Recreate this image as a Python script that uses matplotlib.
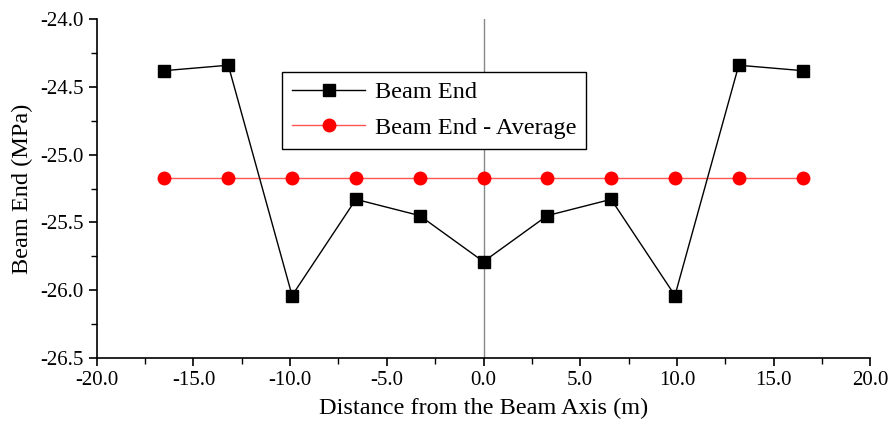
import matplotlib
matplotlib.use("Agg")
import matplotlib.pyplot as plt
from matplotlib.ticker import MultipleLocator, FormatStrFormatter

distance = [-16.5, -13.2, -9.9, -6.6, -3.3, 0.0, 3.3, 6.6, 9.9, 13.2, 16.5]
beam_end = [-24.38, -24.34, -26.04, -25.33, -25.45, -25.79, -25.45, -25.33, -26.04, -24.34, -24.38]
beam_avg = [-25.17] * len(distance)

plt.rcParams['font.family'] = ['Liberation Serif', 'DejaVu Serif']

fig = plt.figure(figsize=(8.88, 4.26), dpi=100)
ax = fig.add_axes([0.109, 0.16, 0.871, 0.795])

ax.axvline(0, color='#888888', lw=1.0, zorder=1)
ax.plot(distance, beam_end, color='black', lw=1.0, marker='s', markersize=8,
        label='Beam End', zorder=3)
ax.plot(distance, beam_avg, color='#ff5555', lw=1.0, marker='o', markersize=9,
        markerfacecolor='red', markeredgecolor='red', label='Beam End - Average', zorder=2)

ax.set_xlim(-20, 20)
ax.set_ylim(-26.5, -24.0)
ax.xaxis.set_major_locator(MultipleLocator(5))
ax.xaxis.set_minor_locator(MultipleLocator(2.5))
ax.yaxis.set_major_locator(MultipleLocator(0.5))
ax.yaxis.set_minor_locator(MultipleLocator(0.25))
ax.xaxis.set_major_formatter(FormatStrFormatter('%.1f'))
ax.yaxis.set_major_formatter(FormatStrFormatter('%.1f'))

for s in ['top', 'right']:
    ax.spines[s].set_visible(False)
for s in ['left', 'bottom']:
    ax.spines[s].set_linewidth(1.2)

ax.tick_params(which='major', direction='out', length=6, width=1.2, labelsize=15)
ax.tick_params(which='minor', direction='out', length=4, width=1.0)

ax.set_xlabel('Distance from the Beam Axis (m)', fontsize=17.5, labelpad=6)
ax.set_ylabel('Beam End (MPa)', fontsize=17.5, labelpad=5)

leg = ax.legend(loc='upper left', bbox_to_anchor=(0.24, 0.845), fontsize=17.5,
                frameon=True, fancybox=False, edgecolor='black', framealpha=1,
                handlelength=3.0, borderpad=0.4, labelspacing=0.55, handletextpad=0.4,
                borderaxespad=0)
leg.get_frame().set_linewidth(1.0)

fig.savefig('out.png', dpi=100)
